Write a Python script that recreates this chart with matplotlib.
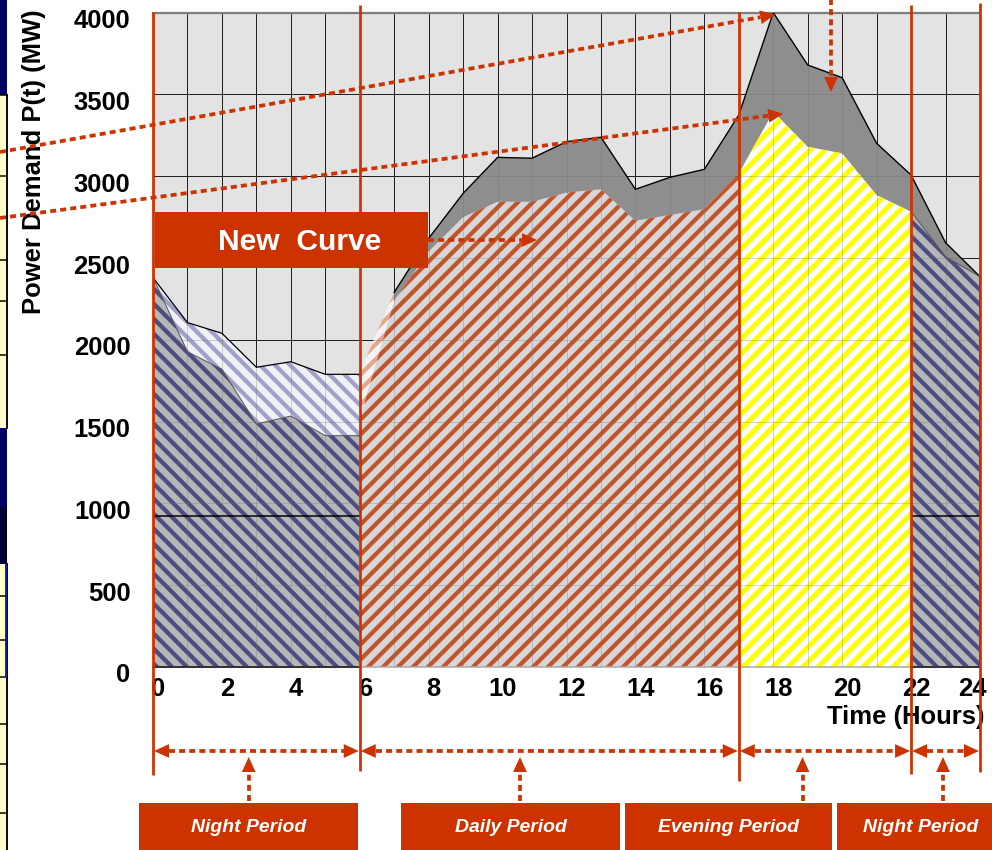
import math
import matplotlib
matplotlib.use("Agg")
import matplotlib.pyplot as plt
from matplotlib import font_manager
from matplotlib.patches import FancyArrowPatch, Rectangle
from matplotlib.transforms import ScaledTranslation

# ---------------------------------------------------------------- data
# Hourly power demand (MW): original load curve and the reshaped "new curve"
night_am_hours = [0, 1, 2, 3, 4, 5, 6]
night_am_old = [2380, 2105, 2040, 1832, 1866, 1789, 1789]
night_am_new = [2380, 1927, 1820, 1485, 1534, 1414, 1414]

day_hours = [6, 7, 8, 9, 10, 11, 12, 13, 14, 15, 16, 17]
day_old = [1800, 2290, 2620, 2895, 3115, 3110, 3211, 3238, 2920, 2993, 3042, 3374]
day_new = [1520, 2240, 2540, 2750, 2844, 2844, 2900, 2920, 2728, 2763, 2798, 3017]

evening_hours = [17, 18, 19, 20, 21, 22]
evening_old = [3374, 4000, 3680, 3602, 3201, 3007]
evening_new = [3017, 3394, 3180, 3140, 2885, 2783]

night_pm_hours = [22, 23, 24]
night_pm_old = [3007, 2594, 2386]
night_pm_new = [2783, 2508, 2386]

base_load = 920

period_names = ["Night Period", "Daily Period", "Evening Period", "Night Period"]
period_bounds = [0, 6, 17, 22, 24]

x_ticks = list(range(0, 25, 2))
y_ticks = list(range(0, 4001, 500))

# ---------------------------------------------------------------- style
DPI = 90
W, H = 992, 850
RED = "#cc3300"


def pick_font(names):
    for n in names:
        try:
            font_manager.findfont(font_manager.FontProperties(family=n),
                                  fallback_to_default=False)
            return n
        except Exception:
            pass
    return "DejaVu Sans"


FONT = pick_font(["Liberation Sans Narrow", "Liberation Sans"])
NARROW_OK = FONT == "Liberation Sans Narrow"
# text sizes, shrunk when only the regular-width face is present
TICK_FS = 25 if NARROW_OK else 20.5
TAG_FS = 29 if NARROW_OK else 24
PERIOD_FS = 19 if NARROW_OK else 15.5

plt.rcParams["hatch.linewidth"] = 3.4

fig = plt.figure(figsize=(W / DPI, H / DPI), dpi=DPI)
fig.patch.set_facecolor("white")

# plot area in pixel terms: x 153..980, y 12.6..667
ax = fig.add_axes([153 / W, 1 - 667 / H, 827 / W, (667 - 12.6) / H])
ax.set_xlim(0, 24)
ax.set_ylim(0, 4000)
ax.set_facecolor("#e3e3e3")
ax.set_zorder(1)

# grid: solid black below the areas, faint copy above them
ax.vlines(range(0, 25), 0, 4000, colors="black", lw=0.8, zorder=0.5)
ax.hlines(y_ticks, 0, 24, colors="black", lw=0.8, zorder=0.5)


def hatched_fill(x, lo, hi, face, stripe, pattern, width, z=2):
    ax.fill_between(x, lo, hi, facecolor=face, edgecolor="none", linewidth=0, zorder=z)
    with plt.rc_context({"hatch.linewidth": width}):
        ax.fill_between(x, lo, hi, facecolor="none", edgecolor=stripe,
                        hatch=pattern, linewidth=0, zorder=z + 0.01)


BAND = "#8e8e8e"

# night (00-06)
hatched_fill(night_am_hours, 0, night_am_new, "#b6b6b6", "#4c4c82", "\\\\", 3.4)
hatched_fill(night_am_hours, night_am_new, night_am_old, "#f1f1f3", "#a0a0cc", "\\\\", 3.4)

# daily (06-17)
hatched_fill(day_hours, 0, day_new, "#d6d6d6", "#c2542c", "//", 3.4)
hatched_fill(day_hours[:2], day_new[:2], day_old[:2], "#f3f3f3", "#e3a78f", "//", 3.4)
ax.fill_between(day_hours[1:], day_new[1:], day_old[1:], facecolor=BAND,
                edgecolor="none", linewidth=0, zorder=2)

# evening (17-22)
hatched_fill(evening_hours, 0, evening_new, "white", "#ffff00", "//", 4.0)
ax.fill_between(evening_hours, evening_new, evening_old, facecolor=BAND,
                edgecolor="none", linewidth=0, zorder=2)

# night (22-24)
hatched_fill(night_pm_hours, 0, night_pm_new, "#b6b6b6", "#4c4c82", "\\\\", 3.4)
ax.fill_between(night_pm_hours, night_pm_new, night_pm_old, facecolor=BAND,
                edgecolor="none", linewidth=0, zorder=2)

ax.vlines(range(0, 25), 0, 4000, colors="#707070", lw=0.8, alpha=0.3, zorder=3)
ax.hlines(y_ticks, 0, 24, colors="#707070", lw=0.8, alpha=0.3, zorder=3)

# outlines of the original load curve
ax.plot(night_am_hours, night_am_old, color="black", lw=1.0, zorder=4)
ax.plot(day_hours[1:] + evening_hours[1:] + night_pm_hours[1:],
        day_old[1:] + evening_old[1:] + night_pm_old[1:],
        color="black", lw=1.1, zorder=4)
ax.plot(night_am_hours, night_am_new, color="#555555", lw=0.8, zorder=4)
ax.plot(night_pm_hours, night_pm_new, color="#555555", lw=0.8, zorder=4)

# base load level during the night periods
ax.hlines(base_load, 0, 6, colors="black", lw=1.2, zorder=4)
ax.hlines(base_load, 22, 24, colors="black", lw=1.2, zorder=4)
ax.plot([0, 6], [0, 0], color="#333333", lw=1.6, zorder=4, clip_on=False)
ax.plot([22, 24], [0, 0], color="#333333", lw=1.6, zorder=4, clip_on=False)
ax.plot([24, 24], [0, night_pm_new[-1]], color="#222222", lw=1.4, zorder=4, clip_on=False)

for side in ("left", "right"):
    ax.spines[side].set_visible(False)
ax.spines["top"].set_color("#808080")
ax.spines["top"].set_linewidth(1.8)
ax.spines["bottom"].set_color("#a8a8a8")
ax.spines["bottom"].set_linewidth(1.2)

ax.set_xticks(x_ticks)
ax.set_xticklabels([str(t) for t in x_ticks], fontsize=TICK_FS, fontweight="bold", family=FONT)
ax.set_yticks(y_ticks)
ax.set_yticklabels([str(t) for t in y_ticks], fontsize=TICK_FS, fontweight="bold", family=FONT)
ax.tick_params(axis="x", length=0, pad=8)
ax.tick_params(axis="y", length=0, pad=18)
for i, lab in enumerate(ax.get_xticklabels()):
    dx = -8 if i == len(x_ticks) - 1 else 5
    lab.set_transform(lab.get_transform() + ScaledTranslation(dx / DPI, 0, fig.dpi_scale_trans))
for lab in ax.get_yticklabels():
    lab.set_transform(lab.get_transform() + ScaledTranslation(0, -6 / DPI, fig.dpi_scale_trans))

# ---------------------------------------------------------------- overlay (pixel coords)
ov = fig.add_axes([0, 0, 1, 1])
ov.set_xlim(0, W)
ov.set_ylim(H, 0)
ov.axis("off")
ov.set_zorder(2)


def to_px(x, y):
    return ov.transData.inverted().transform(ax.transData.transform((x, y)))


# neighbouring panel strip on the left edge
for top, bot, col in [(0, 95, "#000066"), (95, 428, "#ffffcc"), (428, 507, "#000066"),
                      (507, 564, "#000033"), (564, 850, "#ffffcc")]:
    ov.add_patch(Rectangle((0, top), 7, bot - top, facecolor=col, edgecolor="none", zorder=1))
for yy in [95, 176, 217, 260, 301, 355, 596, 640, 677, 724, 764, 813]:
    ov.plot([0, 7], [yy, yy], color="black", lw=1.2, zorder=1.1)
ov.plot([7, 7], [95, 428], color="black", lw=1.5, zorder=1.1)
ov.plot([7, 7], [564, 850], color="black", lw=1.5, zorder=1.1)
ov.plot([6, 6], [564, 677], color="#1a1a99", lw=1.5, zorder=1.1)

# axis titles
ov.text(34, 162, "Power Demand P(t) (MW)", rotation=90, ha="center", va="center",
        fontsize=TICK_FS, fontweight="bold", family=FONT, zorder=2)
ov.text(906, 717, "Time (Hours)", ha="center", va="center",
        fontsize=TICK_FS, fontweight="bold", family=FONT, zorder=2)

# period separators
sep_tops = [12, 5, 12, 5, 3]
sep_bots = [775, 771, 781, 774, 772]
for b, t, e in zip(period_bounds, sep_tops, sep_bots):
    xp = to_px(b, 0)[0]
    ov.plot([xp, xp], [t, e], color=RED, lw=2.2, zorder=3, solid_capstyle="butt")

DOT = (0, (1.6, 1.1))
HEAD = 15


def head(tail, tip):
    ov.add_patch(FancyArrowPatch(tail, tip, arrowstyle="-|>,head_length=12,head_width=5.5",
                                 mutation_scale=1, facecolor=RED, edgecolor=RED, lw=0,
                                 shrinkA=0, shrinkB=0, zorder=5))


def dotted_arrow(p0, p1, both=False):
    (x0, y0), (x1, y1) = p0, p1
    L = math.hypot(x1 - x0, y1 - y0)
    ux, uy = (x1 - x0) / L, (y1 - y0) / L
    s0 = (x0 + ux * HEAD, y0 + uy * HEAD) if both else (x0, y0)
    s1 = (x1 - ux * HEAD, y1 - uy * HEAD)
    ov.plot([s0[0], s1[0]], [s0[1], s1[1]], color=RED, lw=3, linestyle=DOT,
            dash_capstyle="butt", zorder=5)
    head(s1, (x1, y1))
    if both:
        head(s0, (x0, y0))


# arrows to the old and the new evening peak
peak_old = to_px(evening_hours[1], evening_old[1])
peak_new = to_px(evening_hours[1], evening_new[1])
dotted_arrow((0, 152), (peak_old[0] + 2, peak_old[1] + 2))
dotted_arrow((0, 218), (peak_new[0] + 10, peak_new[1] + 2))
dotted_arrow((831, -2), (831, 92))

# "New Curve" tag
ov.add_patch(Rectangle((155, 212), 273, 56, facecolor=RED, edgecolor="none", zorder=4))
ov.text(300, 242, "New  Curve", ha="center", va="center", color="white",
        fontsize=TAG_FS, fontweight="bold", family=FONT, zorder=6)
dotted_arrow((428, 240), (537, 240))

# period spans under the axis
for a, b in zip(period_bounds[:-1], period_bounds[1:]):
    xa = to_px(a, 0)[0]
    xb = to_px(b, 0)[0]
    dotted_arrow((xa + 1, 751), (xb - 1, 751), both=True)

label_boxes = [(139, 357.6), (401, 620), (625, 832), (837, 992)]
label_cx = [248.5, 511, 728, 921]
pointer_x = [248.7, 520, 802.5, 943]
for name, (bx0, bx1), cx, px in zip(period_names, label_boxes, label_cx, pointer_x):
    ov.add_patch(Rectangle((bx0, 803), bx1 - bx0, 50, facecolor=RED, edgecolor="none", zorder=4))
    ov.text(cx, 827, name, ha="center", va="center", color="white", fontsize=PERIOD_FS,
            fontweight="bold", style="italic", family=FONT, zorder=6)
    dotted_arrow((px, 801), (px, 757))

fig.savefig("out.png", dpi=DPI, facecolor="white")
